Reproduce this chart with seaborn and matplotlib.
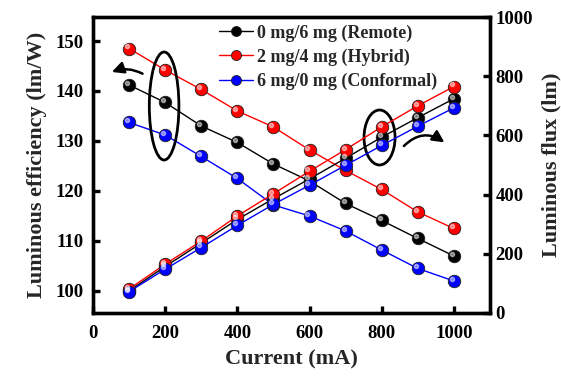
import numpy as np
import pandas as pd
import matplotlib
matplotlib.use("Agg")
import matplotlib.pyplot as plt
import seaborn as sns
from matplotlib.patches import Ellipse, FancyArrowPatch

# ---- data ----
current = [100, 200, 300, 400, 500, 600, 700, 800, 900, 1000]
labels = ["0 mg/6 mg (Remote)", "2 mg/4 mg (Hybrid)", "6 mg/0 mg (Conformal)"]
colors = ["black", "red", "blue"]

eff_remote = [141.2, 137.7, 133.0, 129.7, 125.4, 122.0, 117.5, 114.1, 110.5, 107.0]
eff_hybrid = [148.5, 144.2, 140.3, 136.0, 132.8, 128.2, 124.1, 120.3, 115.8, 112.5]
eff_conformal = [133.7, 131.2, 126.9, 122.5, 117.2, 115.0, 112.0, 108.2, 104.5, 102.0]

flux_remote = [75, 157, 236, 316, 386, 453, 523, 594, 660, 724]
flux_hybrid = [81, 165, 243, 328, 403, 479, 552, 629, 700, 765]
flux_conformal = [72, 148, 221, 296, 367, 432, 499, 566, 631, 693]

eff = [eff_remote, eff_hybrid, eff_conformal]
flux = [flux_remote, flux_hybrid, flux_conformal]

df_eff = pd.DataFrame({
    "Current": current * 3,
    "Value": sum(eff, []),
    "Sample": sum([[l] * len(current) for l in labels], []),
})
df_flux = pd.DataFrame({
    "Current": current * 3,
    "Value": sum(flux, []),
    "Sample": sum([[l] * len(current) for l in labels], []),
})

sns.set_theme(style="ticks")
plt.rcParams["font.family"] = ["Liberation Serif", "DejaVu Serif"]
plt.rcParams["font.weight"] = "bold"

fig = plt.figure(figsize=(5.61, 3.77), dpi=100)
ax = fig.add_axes([0.1658, 0.1698, 0.7076, 0.7851])
ax2 = ax.twinx()

pal = dict(zip(labels, colors))
kw = dict(marker="o", markersize=9, linewidth=1.0, markeredgewidth=0.6,
          markeredgecolor="#202020", palette=pal, hue_order=labels)
sns.lineplot(data=df_eff, x="Current", y="Value", hue="Sample", ax=ax, **kw)
sns.lineplot(data=df_flux, x="Current", y="Value", hue="Sample", ax=ax2, legend=False, **kw)

# highlights for glossy look
for ser, a in [(eff, ax), (flux, ax2)]:
    for vals in ser:
        a.plot(current, vals, linestyle="none", marker="o", markersize=3,
               color="white", alpha=0.5, zorder=5,
               transform=a.transData + matplotlib.transforms.ScaledTranslation(-1.5/72, 1.5/72, fig.dpi_scale_trans))

ax.set_xlim(0, 1100)
ax.set_ylim(95.6, 154.8)
ax2.set_ylim(0, 1000)
ax.set_xticks([0, 200, 400, 600, 800, 1000])
ax.set_yticks([100, 110, 120, 130, 140, 150])
ax2.set_yticks([0, 200, 400, 600, 800, 1000])

for a in (ax, ax2):
    for s in a.spines.values():
        s.set_linewidth(2.4)
        s.set_color("black")
    a.tick_params(direction="in", length=5, width=2.4, labelsize=13.5, colors="black")
ax.tick_params(axis="y", pad=7)
ax.tick_params(axis="x", pad=9)
ax2.tick_params(axis="y", pad=4)

for t in ax.get_xticklabels() + ax.get_yticklabels() + ax2.get_yticklabels():
    t.set_fontweight("bold")

ax.set_xlabel("Current (mA)", fontsize=16, fontweight="bold", labelpad=5)
ax.set_ylabel("Luminous efficiency (lm/W)", fontsize=16, fontweight="bold", labelpad=6)
ax2.set_ylabel("Luminous flux (lm)", fontsize=16, fontweight="bold", labelpad=6)

leg = ax.legend(loc="upper left", bbox_to_anchor=(0.29, 1.012), frameon=False,
                prop={"size": 13, "weight": "bold"}, handlelength=1.9, markerscale=0.8,
                labelspacing=0.38, handletextpad=0.2, borderaxespad=0.2)

# annotations: ellipses and arrows
ax.add_patch(Ellipse((197, 137.0), 82, 21.6, fill=False, lw=2.0, color="black", zorder=6))
ax.add_patch(Ellipse((794, 130.7), 86, 11.0, fill=False, lw=2.0, color="black", zorder=6))
ax.add_patch(FancyArrowPatch((144, 143.2), (45, 143.6), connectionstyle="arc3,rad=0.25",
                             arrowstyle="-|>,head_length=7,head_width=3.5", lw=1.8, color="black", zorder=6))
ax.add_patch(FancyArrowPatch((856, 128.6), (980, 129.4), connectionstyle="arc3,rad=-0.45",
                             arrowstyle="-|>,head_length=7,head_width=3.5", lw=1.8, color="black", zorder=6))

fig.savefig("out.png", dpi=100)
